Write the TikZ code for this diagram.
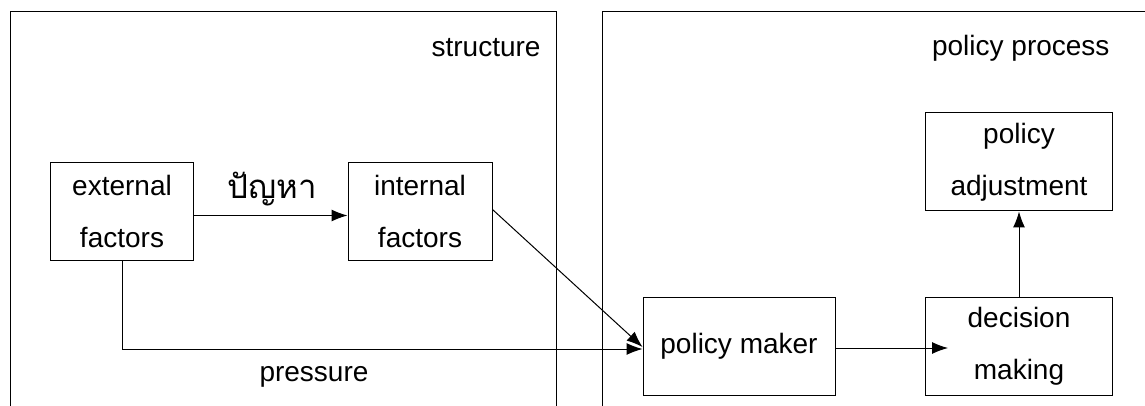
\documentclass[tikz,border=0pt]{standalone}
\usepackage{fontspec}
\setmainfont{Liberation Sans}
\newfontfamily\thaifont[Script=Thai]{Loma}
\usetikzlibrary{arrows.meta}
\begin{document}
\begin{tikzpicture}[x=0.5pt,y=-0.5pt,line width=0.5pt,
  txt/.style={font=\fontsize{14}{26}\selectfont, inner sep=0pt},
  box/.style={draw, txt, align=center, minimum height=49pt},
  arr/.style={-{Latex[length=8pt,width=6pt]}}]
\useasboundingbox (0,0) rectangle (1145,406);
% frames
\draw (10,406) -- (10,12) -- (556,12) -- (556,406);
\draw (602,406) -- (602,12) -- (1145,12);
\node[txt, anchor=east] (lstruct) at (541,48) {structure};
\node[txt, anchor=east] (lpol) at (1110,48) {policy process};
% boxes
\node[box, minimum width=71.5pt] (ext) at (122,211.5) {external\\factors};
\node[box, minimum width=72pt] (int) at (420,211.5) {internal\\factors};
\node[box, minimum width=96pt] (pm) at (739,346) {policy maker};
\node[box, minimum width=93.5pt] (dm) at (1019,346) {decision\\making};
\node[box, minimum width=93.5pt] (adj) at (1019,162) {policy\\adjustment};
% labels
\node[txt, font=\fontsize{16.5}{20}\selectfont\thaifont] (lthai) at (272,189) {ปัญหา};
\node[txt] (lpress) at (314,377) {pressure};
% connectors
\draw[arr] ([yshift=-2pt]ext.east) -- ([yshift=-2pt]int.west);
\draw[arr] (ext.south) |- ([yshift=-1.5pt]pm.west);
\draw[arr] ([yshift=1pt]int.east) -- ([yshift=-0.5pt]pm.west);
\draw[arr] ([yshift=-1pt]pm.east) -- ([xshift=11.5pt,yshift=-1pt]dm.west);
\draw[arr] (dm.north) -- (adj.south);
\end{tikzpicture}
\end{document}
